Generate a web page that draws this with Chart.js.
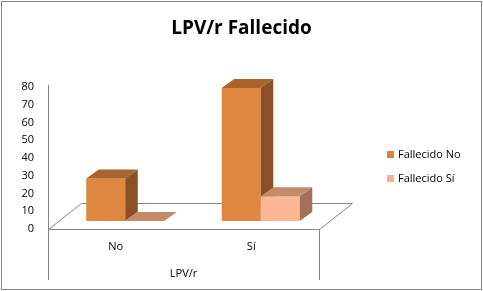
<!DOCTYPE html>
<html>
<head>
<meta charset="utf-8">
<script src="https://cdn.jsdelivr.net/npm/chart.js@4.4.0/dist/chart.umd.min.js"></script>
<style>
    html, body { margin: 0; padding: 0; background: #fff; }
    canvas { display: block; }
</style>
</head>
<body>
<canvas id="chart1" width="483" height="291"></canvas>
<script>
// DATA
var categories = ["No", "Sí"];
var seriesNames = ["Fallecido No", "Fallecido Sí"];
var fallecidoNo = [24, 75];
var fallecidoSi = [0, 14];
var yMin = 0, yMax = 80, yStep = 10;

// front / top / side colours per series
var faceColors = [
    ['#dd873f', '#a9632d', '#8b5025'],
    ['#fbb793', '#c48b6b', '#a37158']
];
var legendColors = ['#d9843d', '#f9b18e'];
var lineColor = '#868686';
var FONT = "'Open Sans', sans-serif";

// 3D look
var shift = { x: 9.5, y: -8 };     // bars stand midway into the floor
var depth = { x: 12.5, y: -9 };    // bar depth
var floorDepth = { x: 33, y: -26 };

function poly(ctx, pts, fill) {
    ctx.beginPath();
    ctx.moveTo(pts[0][0], pts[0][1]);
    for (var k = 1; k < pts.length; k++) ctx.lineTo(pts[k][0], pts[k][1]);
    ctx.closePath();
    ctx.fillStyle = fill;
    ctx.fill();
}

var excel3d = {
    id: 'excel3d',
    beforeDraw: function (chart) {
        var ctx = chart.ctx;
        ctx.save();
        ctx.fillStyle = '#fff';
        ctx.fillRect(0, 0, chart.width, chart.height);
        ctx.strokeStyle = lineColor;
        ctx.lineWidth = 1;
        ctx.strokeRect(1.5, 1.5, chart.width - 3, chart.height - 3);
        ctx.restore();
    },
    beforeDatasetsDraw: function (chart) {
        var ctx = chart.ctx, a = chart.chartArea;
        var L = a.left + 0.5, R = a.right + 0.5, B = a.bottom + 0.5;
        var lowY = chart.height - 11;
        ctx.save();
        ctx.strokeStyle = lineColor;
        ctx.lineWidth = 1;
        // floor
        ctx.beginPath();
        ctx.moveTo(L, B);
        ctx.lineTo(R, B);
        ctx.lineTo(R + floorDepth.x, B + floorDepth.y);
        ctx.lineTo(L + floorDepth.x, B + floorDepth.y);
        ctx.closePath();
        ctx.fillStyle = '#fff';
        ctx.fill();
        ctx.stroke();
        // walls
        ctx.beginPath();
        ctx.moveTo(L, a.top - 2);
        ctx.lineTo(L, lowY);
        ctx.moveTo(R, B);
        ctx.lineTo(R, lowY);
        ctx.stroke();

        // boxes, category by category so nearer faces cover the others
        for (var j = 0; j < categories.length; j++) {
            for (var i = 0; i < chart.data.datasets.length; i++) {
                var bar = chart.getDatasetMeta(i).data[j];
                var x0 = bar.x - bar.width / 2 + shift.x;
                var x1 = x0 + bar.width;
                var top = bar.y + shift.y;
                var base = bar.base + shift.y;
                var c = faceColors[i];
                ctx.fillStyle = c[0];
                ctx.fillRect(x0, top, bar.width, base - top);
                poly(ctx, [[x0, top], [x1, top], [x1 + depth.x, top + depth.y], [x0 + depth.x, top + depth.y]], c[1]);
                if (base - top > 0) {
                    poly(ctx, [[x1, top], [x1 + depth.x, top + depth.y], [x1 + depth.x, base + depth.y], [x1, base]], c[2]);
                }
            }
        }
        ctx.restore();
        return false;
    },
    afterDraw: function (chart) {
        var ctx = chart.ctx;
        ctx.save();
        ctx.font = "11px " + FONT;
        ctx.textBaseline = 'middle';
        ctx.textAlign = 'left';
        for (var i = 0; i < seriesNames.length; i++) {
            var y = 154.5 + i * 23.5;
            ctx.fillStyle = legendColors[i];
            ctx.fillRect(387, Math.round(y - 3.5), 7, 7);
            ctx.fillStyle = '#000';
            ctx.fillText(seriesNames[i], 398, y + 0.5);
        }
        ctx.restore();
    }
};

var ctxChart1 = document.getElementById('chart1').getContext('2d');
var chart1 = new Chart(ctxChart1, {
    type: 'bar',
    plugins: [excel3d],
    data: {
        labels: categories,
        datasets: [{
            label: seriesNames[0],
            data: fallecidoNo,
            backgroundColor: faceColors[0][0]
        }, {
            label: seriesNames[1],
            data: fallecidoSi,
            backgroundColor: faceColors[1][0]
        }]
    },
    options: {
        responsive: false,
        animation: false,
        devicePixelRatio: 1,
        layout: { padding: { left: 0, right: 0, top: 0, bottom: 8 } },
        datasets: {
            bar: { categoryPercentage: 0.576, barPercentage: 1 }
        },
        plugins: {
            legend: { display: false },
            tooltip: { enabled: false },
            title: {
                display: true,
                text: 'LPV/r Fallecido',
                color: '#000',
                font: { family: FONT, size: 19, weight: 'bold' },
                padding: { top: 17, bottom: 47.2 }
            }
        },
        scales: {
            x: {
                grid: { display: false, drawTicks: false },
                border: { display: false },
                ticks: { color: '#000', padding: 11, font: { family: FONT, size: 11 } },
                title: {
                    display: true,
                    text: 'LPV/r',
                    color: '#000',
                    font: { family: FONT, size: 11 },
                    padding: { top: 0, bottom: 3 }
                },
                afterFit: function (scale) { scale.height = 54; }
            },
            y: {
                min: yMin,
                max: yMax,
                grid: { display: false, drawTicks: false },
                border: { display: false },
                ticks: { stepSize: yStep, color: '#000', padding: 14, font: { family: FONT, size: 11 } },
                afterFit: function (scale) { scale.width = 48; }
            },
            // empty right-hand axis keeps room for the legend
            legendSpace: {
                position: 'right',
                grid: { display: false, drawTicks: false },
                border: { display: false },
                ticks: { display: false },
                afterFit: function (scale) { scale.width = 164; }
            }
        }
    }
});
</script>
</body>
</html>
